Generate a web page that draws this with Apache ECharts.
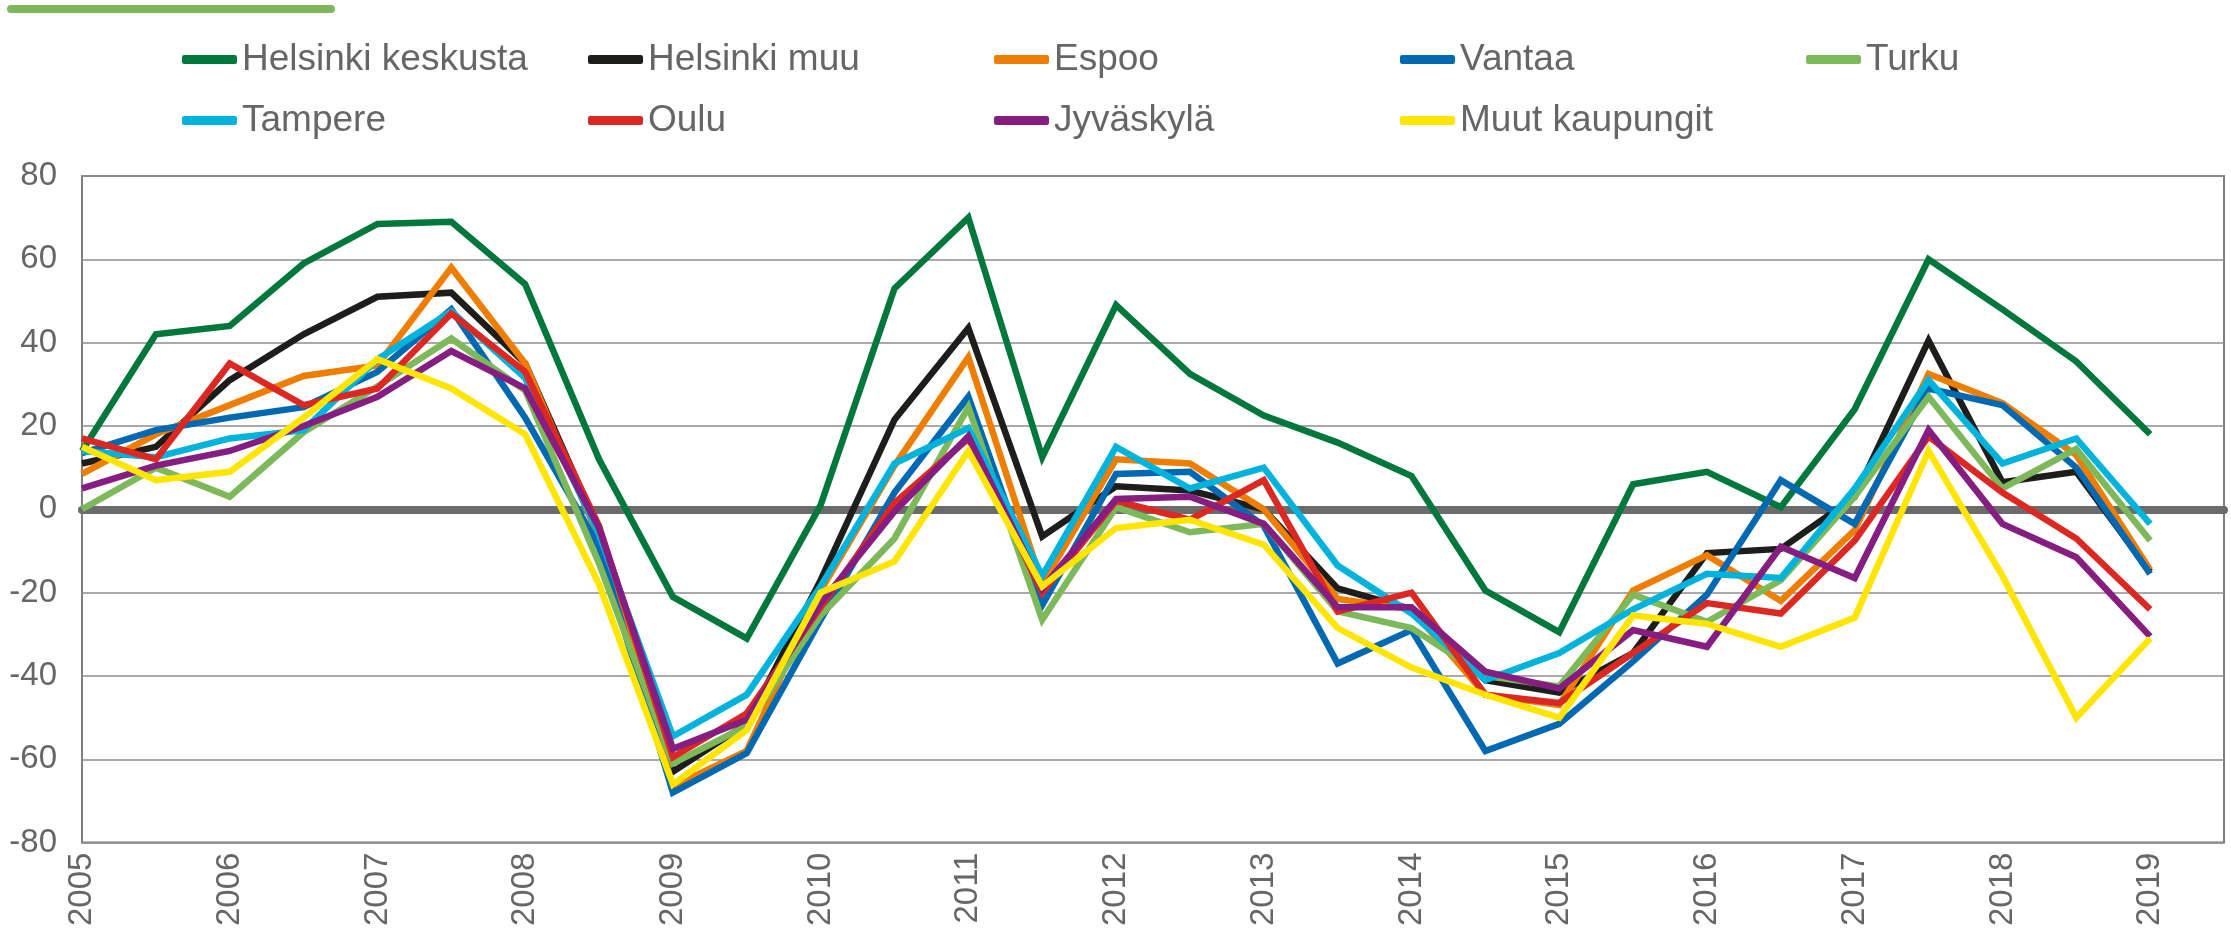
<!DOCTYPE html>
<html>
<head>
<meta charset="utf-8">
<script src="https://cdn.jsdelivr.net/npm/echarts@6/dist/echarts.min.js"></script>
<style>
    html, body { margin: 0; padding: 0; background: #fff; }
    #chart { width: 2231px; height: 929px; }
</style>
</head>
<body>
<div id="chart"></div>
<script>
    // half-year periods, last one left empty (axis runs one step past 2019)
    var periods = ['2005', '2005.5', '2006', '2006.5', '2007', '2007.5', '2008', '2008.5', '2009', '2009.5',
        '2010', '2010.5', '2011', '2011.5', '2012', '2012.5', '2013', '2013.5', '2014', '2014.5',
        '2015', '2015.5', '2016', '2016.5', '2017', '2017.5', '2018', '2018.5', '2019', '2019.5'];
    var yTicks = [-80, -60, -40, -20, 0, 20, 40, 60, 80];

    var seriesNames = ['Helsinki keskusta', 'Helsinki muu', 'Espoo', 'Vantaa', 'Turku',
        'Tampere', 'Oulu', 'Jyväskylä', 'Muut kaupungit'];
    var seriesColors = ['#00783C', '#1D1D1B', '#EE7D00', '#0069B1', '#7DB95A',
        '#00B3DC', '#DC2823', '#861D80', '#FFE500'];

    var helsinkiKeskusta = [14, 42, 44, 59, 68.5, 69, 54, 12, -21, -31, 1, 53, 70, 12.5, 49, 32.5, 22.5, 16, 8, -19.5, -29.5, 6, 9, 0.5, 24, 60, 48, 35.5, 18];
    var helsinkiMuu = [11, 15, 31, 42, 51, 52, 35, -5, -63, -51.5, -17, 21.5, 43.5, -6.5, 5.5, 4.5, 0, -19, -24, -41, -44, -34.5, -10.5, -9.5, 3, 40.5, 6.5, 9, -15];
    var espoo = [8.5, 18, 25, 32, 34.5, 58, 35, -7, -66.5, -58, -19.5, 10.5, 36.5, -18, 12, 11, 0, -21.5, -24, -44.5, -47, -19.5, -11, -22, -5, 32.5, 25.5, 13, -14.5];
    var vantaa = [13.5, 19, 22, 24.5, 33, 48, 22, -9, -68, -58.5, -26.5, 4, 27, -23, 8.5, 9, -4, -37, -29, -58, -51.5, -36.5, -20.5, 7, -3.5, 29, 25, 10, -15.5];
    var turku = [0, 10, 3, 18.5, 29.5, 41, 28.5, -13, -61, -52, -25.5, -7, 24.5, -26.5, 0.5, -5.5, -3.5, -24.5, -28.5, -40, -42.5, -20.5, -27, -17, 3, 27, 5, 14.5, -7.5];
    var tampere = [14, 12.5, 17, 19, 36, 47.5, 31.5, -6, -54.5, -44.5, -18.5, 11, 19.5, -16, 15, 5, 10, -13.5, -25, -41, -34.5, -24, -15.5, -16.5, 5, 31, 11, 17, -3.5];
    var oulu = [17, 12, 35, 25, 29, 47, 33, -4, -59.5, -49, -23.5, 1.5, 17, -20, 2, -2.5, 7, -24.5, -20, -44.5, -46.5, -34.5, -22.5, -25, -7.5, 17.5, 4, -7, -24];
    var jyvaskyla = [5, 10.5, 14, 20, 27, 38, 29, -4.5, -57.5, -50.5, -22.5, -0.5, 17.5, -19, 2.5, 3, -3.5, -23.5, -23.5, -39, -43, -29, -33, -9, -16.5, 19, -3.5, -11.5, -30.5];
    var muutKaupungit = [15, 7, 9, 22, 36, 29, 18, -18, -66, -53, -20, -12.5, 14, -18.5, -4.5, -2.5, -8.5, -28.5, -38, -44.5, -50, -25.5, -27.5, -33, -26, 14, -16, -50, -31];

    var seriesData = [helsinkiKeskusta, helsinkiMuu, espoo, vantaa, turku, tampere, oulu, jyvaskyla, muutKaupungit];

    var font = '"Liberation Sans", Arial, sans-serif';
    var textGray = '#666666';

    var chart = echarts.init(document.getElementById('chart'));

    // one legend per item so the columns line up like the original
    var legends = seriesNames.map(function (name, i) {
        var col = i < 5 ? i : i - 5;
        var row = i < 5 ? 0 : 1;
        return {
            data: [name],
            left: 177 + col * 406,
            top: row === 0 ? 36 : 97,
            icon: 'roundRect',
            itemWidth: 55,
            itemHeight: 9,
            textStyle: { color: textGray, fontSize: 37, fontFamily: font },
            selectedMode: false
        };
    });

    var series = seriesNames.map(function (name, i) {
        return {
            name: name,
            type: 'line',
            data: seriesData[i],
            symbol: 'none',
            color: seriesColors[i],
            lineStyle: { width: 6.5, join: 'miter', color: seriesColors[i] },
            animation: false
        };
    });

    var option = {
        backgroundColor: '#fff',
        graphic: [{
            type: 'rect',
            shape: { x: 7, y: 5, width: 328, height: 8, r: 4 },
            style: { fill: '#7DB95A' }
        }],
        legend: legends,
        grid: {
            left: 82,
            right: 7,
            top: 176,
            bottom: 85,
            show: true,
            borderColor: '#7f7f7f',
            borderWidth: 2,
            backgroundColor: '#fff'
        },
        xAxis: [{
            type: 'category',
            data: periods,
            boundaryGap: false,
            axisLine: { onZero: false, show: false },
            axisTick: { show: false },
            axisLabel: {
                interval: 1,
                rotate: 90,
                margin: 10,
                color: textGray,
                fontSize: 33,
                fontFamily: font
            },
            splitLine: { show: false }
        }, {
            // thick zero line
            type: 'category',
            data: periods,
            boundaryGap: false,
            axisLine: { onZero: true, lineStyle: { color: '#6b6b6b', width: 8 } },
            axisTick: { show: false },
            axisLabel: { show: false },
            splitLine: { show: false }
        }],
        yAxis: {
            type: 'value',
            min: yTicks[0],
            max: yTicks[yTicks.length - 1],
            interval: 20,
            axisLine: { show: false },
            axisTick: { show: false },
            axisLabel: {
                margin: 25,
                color: textGray,
                fontSize: 33,
                fontFamily: font
            },
            splitLine: { lineStyle: { color: '#8c8c8c', width: 1.5 } }
        },
        series: series
    };

    chart.setOption(option);
</script>
</body>
</html>
